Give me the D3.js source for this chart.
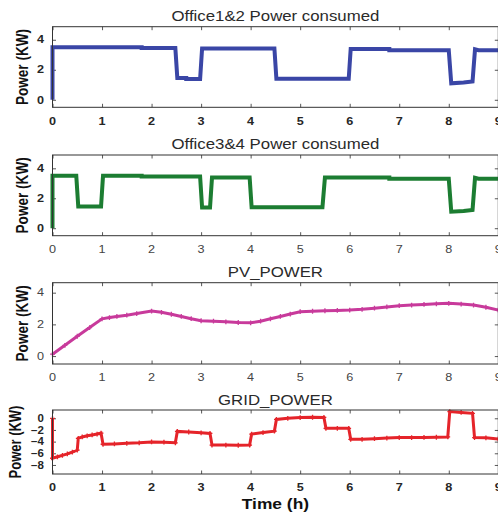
<!DOCTYPE html>
<html>
<head>
<meta charset="utf-8">
<script src="https://cdn.jsdelivr.net/npm/d3@7"></script>
<style>
  html, body { margin: 0; padding: 0; background: #fff; }
  svg { display: block; }
  text { font-family: "Liberation Sans", Arial, sans-serif; }
</style>
</head>
<body>
<div id="chart"></div>
<script>
// Hour ticks shared by every panel
const hourTicks = [0, 1, 2, 3, 4, 5, 6, 7, 8, 9];

// Office 1&2 load (kW) as a step profile over the 9 h window
const load12Time  = [0, 0, 1.8, 1.8, 2.48, 2.52, 2.7, 2.7, 2.98, 3.02, 4.48, 4.52, 5.98, 6.02, 6.8, 6.8, 8.0, 8.05, 8.3, 8.48, 8.53, 8.6, 9];
const load12Power = [0, 3.5, 3.5, 3.45, 3.45, 1.45, 1.45, 1.38, 1.38, 3.42, 3.42, 1.4, 1.4, 3.38, 3.38, 3.3, 3.3, 1.1, 1.15, 1.22, 3.36, 3.3, 3.3];

// Office 3&4 load (kW)
const load34Time  = [0, 0, 0.48, 0.52, 0.98, 1.02, 1.8, 1.8, 2.98, 3.02, 3.18, 3.22, 3.98, 4.02, 5.45, 5.5, 6.8, 6.8, 8.0, 8.05, 8.3, 8.48, 8.53, 8.6, 9];
const load34Power = [0, 3.5, 3.5, 1.45, 1.45, 3.5, 3.5, 3.45, 3.45, 1.38, 1.38, 3.38, 3.38, 1.4, 1.4, 3.38, 3.38, 3.3, 3.3, 1.1, 1.15, 1.22, 3.36, 3.3, 3.3];

// PV generation (kW)
const pvTime  = [0, 0.25, 0.5, 0.75, 1.0, 1.15, 1.3, 1.5, 1.7, 2.0, 2.2, 2.4, 2.6, 2.8, 3.0, 3.25, 3.5, 3.75, 4.0, 4.2, 4.4, 4.6, 4.8, 5.0, 5.25, 5.5, 5.75, 6.0, 6.25, 6.5, 6.75, 7.0, 7.25, 7.5, 7.75, 8.0, 8.25, 8.5, 8.75, 9.0];
const pvPower = [0.12, 0.68, 1.25, 1.8, 2.35, 2.43, 2.5, 2.58, 2.68, 2.84, 2.76, 2.64, 2.5, 2.36, 2.23, 2.2, 2.16, 2.12, 2.1, 2.2, 2.35, 2.5, 2.65, 2.8, 2.83, 2.86, 2.88, 2.9, 2.95, 3.02, 3.1, 3.18, 3.22, 3.26, 3.3, 3.33, 3.28, 3.22, 3.08, 2.9];

// Grid exchange (kW, negative = import)
const gridTime  = [0, 0, 0.1, 0.2, 0.3, 0.4, 0.5, 0.52, 0.6, 0.7, 0.8, 0.9, 0.98, 1.02, 1.25, 1.5, 1.75, 2.0, 2.25, 2.48, 2.52, 2.75, 3.0, 3.18, 3.22, 3.5, 3.75, 3.98, 4.02, 4.25, 4.48, 4.52, 4.75, 5.0, 5.25, 5.48, 5.52, 5.75, 5.98, 6.02, 6.25, 6.5, 6.75, 7.0, 7.25, 7.5, 7.75, 7.98, 8.02, 8.25, 8.48, 8.52, 8.75, 9.0];
const gridPower = [0, -6.85, -6.6, -6.35, -6.1, -5.8, -5.45, -3.45, -3.2, -3.0, -2.85, -2.7, -2.55, -4.45, -4.4, -4.3, -4.2, -4.05, -4.1, -4.2, -2.25, -2.35, -2.5, -2.6, -4.6, -4.6, -4.62, -4.6, -2.7, -2.45, -2.2, -0.2, 0.0, 0.12, 0.18, 0.15, -1.72, -1.72, -1.72, -3.6, -3.6, -3.5, -3.4, -3.3, -3.3, -3.28, -3.25, -3.2, 1.15, 1.0, 0.85, -3.3, -3.35, -3.55];

// Panel titles and y ticks
const panelTitles = ["Office1&2 Power consumed", "Office3&4 Power consumed", "PV_POWER", "GRID_POWER"];
const loadTicks = [0, 2, 4];
const gridTicks = [0, -2, -4, -6, -8];

const W = 498, H = 513;
const svg = d3.select("#chart").append("svg").attr("width", W).attr("height", H);

const X0 = 52.5, X1 = 498.3;
const SX = 1.2; // horizontal stretch of the lettering

const panels = [
  { title: panelTitles[0], t: load12Time, v: load12Power, color: "#3a46a6", width: 4, markers: false,
    top: 26.7, bottom: 107.3, dom: [-0.5, 4.87], ticks: loadTicks, xBold: true, yBold: true, titleY: 15.7 },
  { title: panelTitles[1], t: load34Time, v: load34Power, color: "#1c7d32", width: 4, markers: false,
    top: 155, bottom: 235.7, dom: [-0.5, 4.89], ticks: loadTicks, xBold: false, yBold: true, titleY: 144 },
  { title: panelTitles[2], t: pvTime, v: pvPower, color: "#c83a9b", width: 3, markers: true,
    top: 282.7, bottom: 364, dom: [-0.5, 4.63], ticks: loadTicks, xBold: false, yBold: false, titleY: 271.7 },
  { title: panelTitles[3], t: gridTime, v: gridPower, color: "#e5242a", width: 3, markers: true,
    top: 410, bottom: 474, dom: [-9.55, 1.42], ticks: gridTicks, xBold: true, yBold: true, titleY: 400 }
];

const x = d3.scaleLinear().domain([0, 9]).range([X0, X1]);

function stretchedText(g, px, py, str, opts) {
  return g.append("text")
    .attr("transform", `translate(${px},${py}) scale(${opts.sx || SX},1)` + (opts.rotate ? ` rotate(${opts.rotate})` : ""))
    .attr("text-anchor", opts.anchor || "middle")
    .attr("dominant-baseline", "central")
    .attr("font-size", opts.size)
    .attr("font-weight", opts.bold ? "bold" : "normal")
    .attr("fill", opts.fill || "#262626")
    .text(str);
}

panels.forEach((p, i) => {
  const g = svg.append("g");
  const y = d3.scaleLinear().domain(p.dom).range([p.bottom, p.top]);

  // inward ticks on all four sides
  const tl = 3.5;
  const axes = [
    d3.axisBottom(x).tickValues(hourTicks).tickSize(-tl).tickFormat(""),
    d3.axisTop(x).tickValues(hourTicks).tickSize(-tl).tickFormat(""),
    d3.axisLeft(y).tickValues(p.ticks).tickSize(-tl).tickFormat(""),
    d3.axisRight(y).tickValues(p.ticks).tickSize(-tl).tickFormat("")
  ];
  const offs = [`translate(0,${p.bottom})`, `translate(0,${p.top})`, `translate(${X0},0)`, `translate(${X1},0)`];
  axes.forEach((a, k) => {
    const ag = g.append("g").attr("transform", offs[k]).call(a);
    ag.select(".domain").remove();
    ag.selectAll(".tick line").attr("stroke", "#444").attr("stroke-width", 0.9);
  });

  // data line
  const line = d3.line().x((d, k) => x(p.t[k])).y(d => y(d));
  g.append("path")
    .datum(p.v)
    .attr("fill", "none")
    .attr("stroke", p.color)
    .attr("stroke-width", p.width)
    .attr("stroke-linejoin", "miter")
    .attr("d", line);

  if (p.markers) {
    const ms = 2.4;
    g.append("g").selectAll("path")
      .data(p.v)
      .join("path")
      .attr("d", (d, k) => {
        const cx = x(p.t[k]), cy = y(d);
        return `M${cx - ms},${cy}H${cx + ms}M${cx},${cy - ms}V${cy + ms}`;
      })
      .attr("stroke", p.color)
      .attr("stroke-width", 1.3);
  }

  // box
  g.append("rect")
    .attr("x", X0).attr("y", p.top)
    .attr("width", X1 - X0).attr("height", p.bottom - p.top)
    .attr("fill", "none").attr("stroke", "#333").attr("stroke-width", 1);

  // x tick labels
  hourTicks.forEach(h => {
    stretchedText(g, x(h), p.bottom + 13.6, String(h),
      { size: 11, bold: p.xBold, sx: 1.15, fill: p.xBold ? "#262626" : "#444" });
  });

  // y tick labels
  p.ticks.forEach(v => {
    stretchedText(g, 44, y(v), d3.format("d")(v), {
      size: p.ticks === gridTicks ? 10 : 11, bold: p.yBold, anchor: "end", sx: 1.15,
      fill: p.yBold ? "#262626" : "#444"
    });
  });

  // title
  stretchedText(g, (X0 + X1) / 2, p.titleY, p.title, { size: 14, fill: "#2a2a2a" });

  // y axis label
  stretchedText(g, i === 3 ? 15 : 22, (p.top + p.bottom) / 2, "Power (KW)",
    { size: i === 3 ? 13 : 13.6, bold: true, rotate: -90, fill: "#111", sx: 1.25 });
});

// x axis label
stretchedText(svg, (X0 + X1) / 2, 504, "Time (h)", { size: 14.5, bold: true, fill: "#111" });
</script>
</body>
</html>
